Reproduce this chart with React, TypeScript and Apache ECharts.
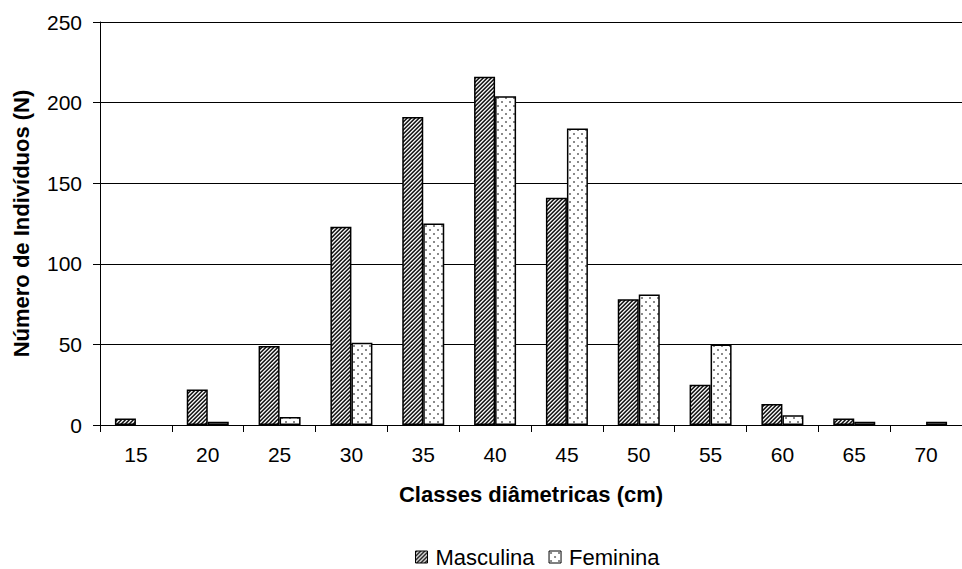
import React, { useEffect, useRef } from "react";
import * as echarts from "echarts";

const categories = ["15", "20", "25", "30", "35", "40", "45", "50", "55", "60", "65", "70"];
const masculina = [4, 22, 49, 123, 191, 216, 141, 78, 25, 13, 4, 0];
const feminina = [0, 2, 5, 51, 125, 204, 184, 81, 50, 6, 2, 2];

const FONT = "'Liberation Sans', Arial, sans-serif";

function makeHatch(): HTMLCanvasElement {
  const c = document.createElement("canvas");
  const n = 4;
  c.width = n;
  c.height = n;
  const ctx = c.getContext("2d")!;
  const shades = ["#141414", "#4a4a4a", "#f4f4f4", "#a8a8a8"];
  for (let y = 0; y < n; y++) {
    for (let x = 0; x < n; x++) {
      ctx.fillStyle = shades[(x + y) % n];
      ctx.fillRect(x, y, 1, 1);
    }
  }
  return c;
}

function makeDots(): HTMLCanvasElement {
  const c = document.createElement("canvas");
  const n = 8;
  c.width = n;
  c.height = n;
  const ctx = c.getContext("2d")!;
  ctx.fillStyle = "#ffffff";
  ctx.fillRect(0, 0, n, n);
  ctx.fillStyle = "#8a8a8a";
  ctx.fillRect(1, 1, 2, 2);
  ctx.fillRect(5, 5, 2, 2);
  return c;
}

const nonZero = (arr: number[]) => arr.map((v) => (v === 0 ? null : v));

export default function App() {
  const ref = useRef<HTMLDivElement>(null);
  useEffect(() => {
    if (!ref.current) return;
    const chart = echarts.init(ref.current, null, { renderer: "svg" });
    const hatch = makeHatch();
    const dots = makeDots();
    const hatchPattern: any = { image: hatch, repeat: "repeat", imageWidth: hatch.width, imageHeight: hatch.height };
    const dotPattern: any = { image: dots, repeat: "repeat", imageWidth: dots.width, imageHeight: dots.height };
    chart.setOption({
      animation: false,
      backgroundColor: "#ffffff",
      textStyle: { fontFamily: FONT, color: "#000" },
      grid: { left: 100, top: 22, bottom: 144, right: -13, containLabel: false },
      legend: {
        left: 415,
        top: 546,
        padding: 0,
        itemWidth: 12,
        itemHeight: 12,
        itemGap: 14,
        icon: "rect",
        textStyle: { fontFamily: FONT, fontSize: 22, color: "#000", padding: [0, 0, 0, 3] },
        itemStyle: { borderColor: "#000", borderWidth: 1 },
        data: ["Masculina", "Feminina"],
      },
      xAxis: {
        type: "category",
        data: categories,
        boundaryGap: true,
        name: "Classes diâmetricas (cm)",
        nameLocation: "middle",
        nameGap: 58,
        nameTextStyle: { fontFamily: FONT, fontSize: 22, fontWeight: "bold", color: "#000" },
        axisLine: { show: true, lineStyle: { color: "#000", width: 1 } },
        axisTick: { show: true, length: 7, alignWithLabel: false, lineStyle: { color: "#000" } },
        axisLabel: { fontFamily: FONT, fontSize: 21, color: "#000", margin: 19 },
        splitLine: { show: false },
      },
      yAxis: {
        type: "value",
        min: 0,
        max: 250,
        interval: 50,
        name: "Número de Indivíduos (N)",
        nameLocation: "middle",
        nameGap: 68,
        nameTextStyle: { fontFamily: FONT, fontSize: 22, fontWeight: "bold", color: "#000" },
        axisLine: { show: true, lineStyle: { color: "#000", width: 1 } },
        axisTick: { show: true, length: 7, lineStyle: { color: "#000" } },
        axisLabel: { fontFamily: FONT, fontSize: 21, color: "#000", margin: 18 },
        splitLine: { show: true, lineStyle: { color: "#000", width: 1 } },
      },
      series: [
        {
          name: "Masculina",
          type: "bar",
          data: nonZero(masculina),
          barWidth: 21,
          barGap: "0%",
          itemStyle: { color: hatchPattern, borderColor: "#000", borderWidth: 1.5 },
        },
        {
          name: "Feminina",
          type: "bar",
          data: nonZero(feminina),
          barWidth: 21,
          barGap: "0%",
          itemStyle: { color: dotPattern, borderColor: "#000", borderWidth: 1.5 },
        },
      ],
    });
    return () => chart.dispose();
  }, []);
  return (
    <div
      ref={ref}
      style={{ position: "fixed", left: 0, top: 0, width: 962, height: 569, overflow: "hidden" }}
    />
  );
}
